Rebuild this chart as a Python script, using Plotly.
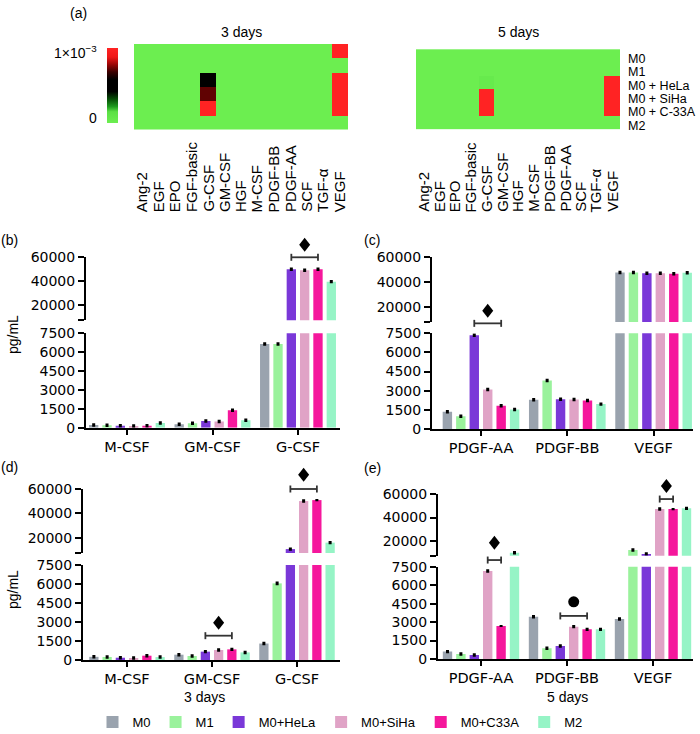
import plotly.graph_objects as go

W, H = 700, 734
FONT = "DejaVu Sans"
FONT2 = "Liberation Sans"

# ---------------- data ----------------
groups = ['M0', 'M1', 'M0+HeLa', 'M0+SiHa', 'M0+C33A', 'M2']
colors = ['#9AA3AE', '#9AF29C', '#7A38D8', '#E0A3C6', '#F5179C', '#96F4C6']

heat_cols = ['Ang-2', 'EGF', 'EPO', 'FGF-basic', 'G-CSF', 'GM-CSF', 'HGF', 'M-CSF',
             'PDGF-BB', 'PDGF-AA', 'SCF', 'TGF-α', 'VEGF']
heat_rows = ['M0', 'M1', 'M0 + HeLa', 'M0 + SiHa', 'M0 + C-33A', 'M2']
# values in units of 1e-3
heat_3d = [
    [0, 0, 0, 0, 0.00, 0, 0, 0, 0, 0, 0, 0, 1.0],
    [0, 0, 0, 0, 0.00, 0, 0, 0, 0, 0, 0, 0, 0.0],
    [0, 0, 0, 0, 0.50, 0, 0, 0, 0, 0, 0, 0, 1.0],
    [0, 0, 0, 0, 0.72, 0, 0, 0, 0, 0, 0, 0, 1.0],
    [0, 0, 0, 0, 1.00, 0, 0, 0, 0, 0, 0, 0, 1.0],
    [0, 0, 0, 0, 0.00, 0, 0, 0, 0, 0, 0, 0, 0.0],
]
heat_5d = [
    [0, 0, 0, 0, 0.00, 0, 0, 0, 0, 0, 0, 0, 0.0],
    [0, 0, 0, 0, 0.00, 0, 0, 0, 0, 0, 0, 0, 0.0],
    [0, 0, 0, 0, 0.04, 0, 0, 0, 0, 0, 0, 0, 1.0],
    [0, 0, 0, 0, 1.00, 0, 0, 0, 0, 0, 0, 0, 1.0],
    [0, 0, 0, 0, 1.00, 0, 0, 0, 0, 0, 0, 0, 1.0],
    [0, 0, 0, 0, 0.00, 0, 0, 0, 0, 0, 0, 0, 0.0],
]

cats_csf = ['M-CSF', 'GM-CSF', 'G-CSF']
cats_pdgf = ['PDGF-AA', 'PDGF-BB', 'VEGF']

# rows = groups (M0, M1, M0+HeLa, M0+SiHa, M0+C33A, M2); columns = categories
vals_b = [[220, 270, 6650], [200, 350, 6650], [150, 530, 50000],
          [140, 490, 49200], [160, 1390, 50000], [380, 600, 39700]]
vals_c = [[1350, 2300, 47600], [1000, 3800, 47600], [7350, 2330, 47100],
          [3100, 2320, 47100], [1820, 2240, 46600], [1520, 1950, 47400]]
vals_d = [[250, 420, 1300], [240, 316, 6050], [180, 660, 10700],
          [150, 790, 50100], [340, 840, 50900], [230, 600, 16000]]
vals_e = [[600, 3440, 3250], [400, 870, 12300], [320, 1050, 9000],
          [7150, 2630, 47200], [2680, 2410, 47200], [10000, 2410, 47800]]

err_b = [[50, 50, 60], [50, 50, 60], [50, 50, 500], [50, 50, 500], [50, 50, 500], [50, 50, 500]]
err_c = [[50, 50, 500], [50, 50, 500], [50, 50, 500], [50, 50, 500], [50, 50, 500], [50, 50, 500]]
err_d = [[50, 50, 50], [50, 50, 60], [50, 50, 500], [50, 50, 500], [50, 50, 0], [50, 50, 500]]
err_e = [[50, 50, 50], [50, 50, 500], [50, 50, 500], [60, 50, 500], [0, 50, 0], [500, 50, 500]]

lower_range = [0, 7500]
upper_range = [7500, 60000]
lower_ticks = [0, 1500, 3000, 4500, 6000, 7500]
upper_ticks = [7500, 20000, 40000, 60000]
upper_ticktext = ['', '20000', '40000', '60000']

# significance: (category, first group, last group, segment, bracket y, symbol y, symbol)
sig_b = [(2, 2, 4, 'u', 60000, 70500, 'diamond')]
sig_c = [(0, 2, 4, 'u', 6400, 16700, 'diamond')]
sig_d = [(1, 2, 4, 'l', 1920, 2950, 'diamond'), (2, 2, 4, 'u', 60000, 71700, 'diamond')]
sig_e = [(0, 3, 4, 'u', 3800, 18600, 'diamond'), (1, 2, 4, 'l', 3500, 4650, 'circle'),
         (2, 3, 4, 'u', 55700, 66800, 'diamond')]

# ---------------- helpers ----------------
def fx(px):
    return px / W

def fy(py):
    return 1 - py / H

def lin(v, rng, dom):
    return dom[0] + (v - rng[0]) / (rng[1] - rng[0]) * (dom[1] - dom[0])

BARGAP = 0.065
GROUPGAP = 0.3
NG = len(groups)

def offset(i):
    gw = 1 - BARGAP
    return -gw / 2 + (i + 0.5) * gw / NG

fig = go.Figure()
layout = dict(
    width=W, height=H, margin=dict(l=0, r=0, t=0, b=0, pad=0, autoexpand=False),
    paper_bgcolor='white', plot_bgcolor='white',
    font=dict(family=FONT, color='black', size=13),
    barmode='group', bargap=BARGAP, bargroupgap=GROUPGAP,
    showlegend=True,
)
annotations = []
shapes = []

# ---------------- heatmaps ----------------
colorscale = [
    [0.0, '#6CEE50'], [0.15, '#5BE045'], [0.22, '#1E9A1E'], [0.32, '#064D06'],
    [0.42, '#000000'], [0.58, '#000000'], [0.68, '#3A0000'], [0.78, '#9A0606'],
    [0.88, '#F01818'], [1.0, '#FF2323'],
]
heat_specs = [
    (heat_3d, 'x', 'y', 134, 348, '3 days', True),
    (heat_5d, 'x2', 'y2', 416, 620, '5 days', False),
]
for k, (z, xa, ya, x0, x1, title, cb) in enumerate(heat_specs):
    trace = go.Heatmap(
        z=[[v * 1e-3 for v in row] for row in z],
        x=list(range(len(heat_cols))), y=heat_rows,
        colorscale=colorscale, zmin=0, zmax=1e-3,
        xaxis=xa, yaxis=ya, showscale=cb, hoverinfo='skip',
    )
    if cb:
        trace.colorbar = dict(
            x=fx(107), xanchor='left', xpad=0, ypad=0,
            y=fy(85.5), yanchor='middle', len=75 / H, lenmode='fraction',
            thickness=11, thicknessmode='pixels', outlinewidth=0,
            showticklabels=False, ticks='',
        )
    fig.add_trace(trace)
    suffix = '' if k == 0 else '2'
    layout['xaxis' + suffix] = dict(domain=[fx(x0), fx(x1)], range=[-0.5, len(heat_cols) - 0.5],
                                    visible=False, anchor=ya)
    layout['yaxis' + suffix] = dict(domain=[fy(129.5), fy(44)], autorange='reversed',
                                    visible=False, anchor=xa, type='category')
    annotations.append(dict(text=title, x=(fx(x0) + fx(x1)) / 2, y=fy(32), xref='paper', yref='paper',
                            showarrow=False, font=dict(size=14, family=FONT2), xanchor='center',
                            yanchor='middle'))
    for j, name in enumerate(heat_cols):
        annotations.append(dict(text=name, x=j, xref=xa, y=fy(214), yref='paper', textangle=-90,
                                xanchor='center', yanchor='bottom', showarrow=False,
                                font=dict(size=15, family=FONT2)))

for r, name in enumerate(heat_rows):
    annotations.append(dict(text=name, x=fx(626), xref='paper', y=name, yref='y2', yshift=-3,
                            xanchor='left', yanchor='middle', showarrow=False,
                            font=dict(size=12.5, family=FONT2)))

annotations.append(dict(text='1×10<sup>−3</sup>', x=fx(99), y=fy(52), xref='paper', yref='paper',
                        xanchor='right', yanchor='middle', showarrow=False, font=dict(size=14, family=FONT2)))
annotations.append(dict(text='0', x=fx(99), y=fy(118), xref='paper', yref='paper',
                        xanchor='right', yanchor='middle', showarrow=False, font=dict(size=14, family=FONT2)))

# ---------------- bar panels ----------------
panels = [
    # name, cats, vals, err, x-axis px span, lower y px (top,bottom), upper y px (top,bottom), cat0 px, spacing, sig
    ('b', cats_csf, vals_b, err_b, (86, 340), (333.3, 427.7), (257.3, 320.3), 127, 85.5, sig_b),
    ('c', cats_pdgf, vals_c, err_c, (432, 693), (333.3, 429.0), (257.3, 322.0), 481, 86.3, sig_c),
    ('d', cats_csf, vals_d, err_d, (83, 340), (565.0, 660.0), (489.0, 553.0), 127, 85.0, sig_d),
    ('e', cats_pdgf, vals_e, err_e, (438, 693), (566.7, 659.0), (494.0, 555.7), 481, 86.0, sig_e),
]

axis_style = dict(showline=True, linecolor='black', linewidth=2, ticks='outside', tickwidth=2,
                  tickcolor='black', showgrid=False, zeroline=False)

BRK = '#333333'
n = 3
for p, (name, cats, vals, errs, xspan, lowpx, uppx, c0, sp, sigs) in enumerate(panels):
    xl, yl = n, n
    xu, yu = n + 1, n + 1
    n += 2
    xr = [(xspan[0] - c0) / sp, (xspan[1] - c0) / sp]
    xdom = [fx(xspan[0]), fx(xspan[1])]
    ldom = [fy(lowpx[1]), fy(lowpx[0])]
    udom = [fy(uppx[1]), fy(uppx[0])]
    layout[f'xaxis{xl}'] = dict(domain=xdom, range=xr, anchor=f'y{yl}',
                                tickvals=list(range(len(cats))), ticktext=cats, ticklen=5,
                                tickfont=dict(size=14.5), **axis_style)
    layout[f'xaxis{xu}'] = dict(domain=xdom, range=xr, anchor=f'y{yu}',
                                matches=f'x{xl}', visible=False)
    layout[f'yaxis{yl}'] = dict(domain=ldom, range=lower_range, anchor=f'x{xl}',
                                tickvals=lower_ticks, ticklen=6, tickfont=dict(size=14), **axis_style)
    layout[f'yaxis{yu}'] = dict(domain=udom, range=upper_range, anchor=f'x{xu}',
                                tickvals=upper_ticks, ticktext=upper_ticktext, ticklen=6,
                                tickfont=dict(size=14), **axis_style)
    for i, g in enumerate(groups):
        # lower segment: all values; upper segment: only values that reach above the break
        upper_vals = [v if v > upper_range[0] else None for v in vals[i]]
        for xa, ya, yv in ((xl, yl, vals[i]), (xu, yu, upper_vals)):
            fig.add_trace(go.Bar(
                x=list(range(len(cats))), y=yv, name=g, marker=dict(color=colors[i], line=dict(width=0)),
                error_y=dict(type='data', array=errs[i], color='black', thickness=2.2, width=1.5),
                xaxis=f'x{xa}', yaxis=f'y{ya}', showlegend=(p == 0 and xa == xl),
                legendgroup=g, hoverinfo='skip',
            ))
    # significance brackets and symbols (paper coordinates so they are never clipped)
    for (ci, g0, g1, seg, yb, ys, sym) in sigs:
        rng, dom = (lower_range, ldom) if seg == 'l' else (upper_range, udom)
        px0 = lin(ci + offset(g0), xr, xdom)
        px1 = lin(ci + offset(g1), xr, xdom)
        pyb = lin(yb, rng, dom)
        pys = lin(ys, rng, dom)
        shapes.append(dict(type='line', xref='paper', yref='paper', x0=px0, x1=px1, y0=pyb, y1=pyb,
                           line=dict(color=BRK, width=1.8)))
        for xe in (px0, px1):
            shapes.append(dict(type='line', xref='paper', yref='paper', ysizemode='pixel',
                               yanchor=pyb, x0=xe, x1=xe, y0=-3.5, y1=3.5, line=dict(color=BRK, width=1.8)))
        xm = (px0 + px1) / 2
        if sym == 'diamond':
            shapes.append(dict(type='path', xref='paper', yref='paper', xsizemode='pixel', ysizemode='pixel',
                               xanchor=xm, yanchor=pys, path='M0,7 L5.5,0 L0,-7 L-5.5,0 Z',
                               fillcolor='black', line=dict(width=0)))
        else:
            shapes.append(dict(type='circle', xref='paper', yref='paper', xsizemode='pixel', ysizemode='pixel',
                               xanchor=xm, yanchor=pys, x0=-5.5, x1=5.5, y0=-5.5, y1=5.5,
                               fillcolor='black', line=dict(width=0)))

# y-axis titles
for yc in (335, 590):
    annotations.append(dict(text='pg/mL', x=fx(13), y=fy(yc), xref='paper', yref='paper', textangle=-90,
                            showarrow=False, font=dict(size=14, family=FONT2), xanchor='center',
                            yanchor='middle'))
# day labels under bottom panels
annotations.append(dict(text='3 days', x=fx(204), y=fy(697), xref='paper', yref='paper',
                        showarrow=False, font=dict(size=14, family=FONT2), xanchor='center', yanchor='middle'))
annotations.append(dict(text='5 days', x=fx(567), y=fy(697), xref='paper', yref='paper',
                        showarrow=False, font=dict(size=14, family=FONT2), xanchor='center', yanchor='middle'))
# panel letters
for lab, lx, ly in (('(a)', 78, 13), ('(b)', 9, 240), ('(c)', 372, 240), ('(d)', 9, 467), ('(e)', 372, 468)):
    annotations.append(dict(text=lab, x=fx(lx), y=fy(ly), xref='paper', yref='paper', showarrow=False,
                            font=dict(size=14, family=FONT2), xanchor='center', yanchor='middle'))

layout['annotations'] = annotations
layout['shapes'] = shapes
layout['legend'] = dict(orientation='h', x=fx(340), xanchor='center', y=fy(722), yanchor='middle',
                        font=dict(size=13, family=FONT2), itemwidth=30, tracegroupgap=0)
fig.update_layout(**layout)
fig.write_html('out.html', config={'displayModeBar': False},
               post_script="document.body.style.margin='0px';")
